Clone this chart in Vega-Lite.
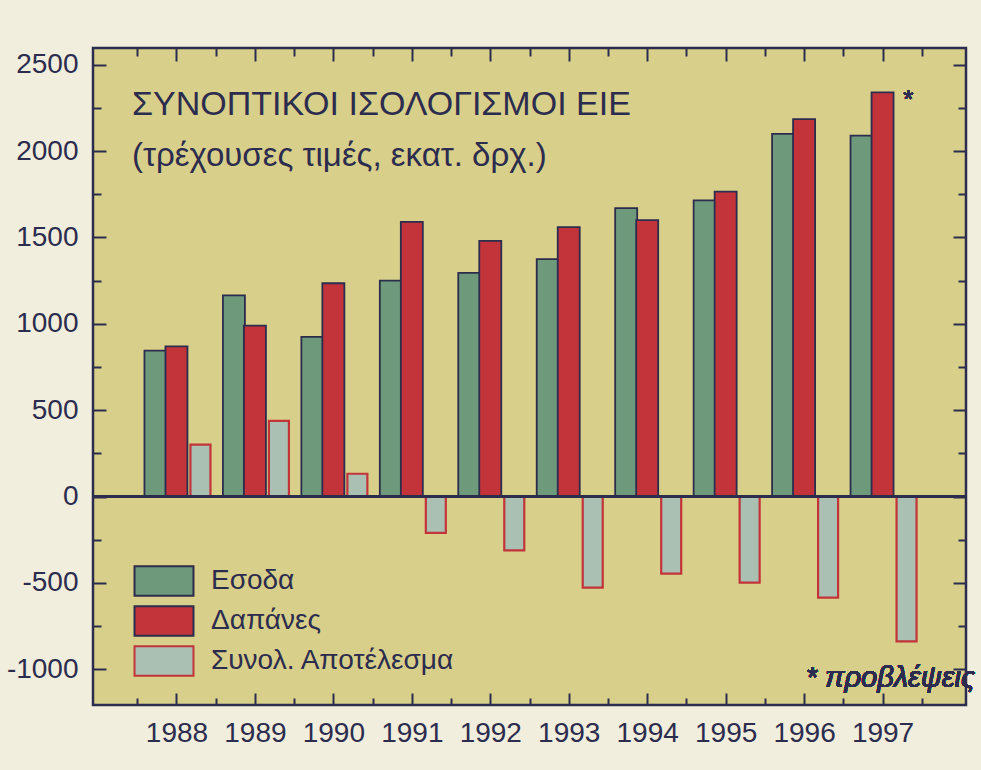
{
  "$schema": "https://vega.github.io/schema/vega-lite/v6.json",
  "width": 873,
  "height": 657,
  "autosize": {"type": "none"},
  "padding": {"left": 93, "top": 48, "right": 15, "bottom": 65},
  "background": "#f1eedd",
  "config": {
    "view": {"fill": "#d8cf8a", "stroke": "#2c2c4e", "strokeWidth": 2.5},
    "font": "Liberation Sans",
    "axis": {"grid": false, "domain": false, "title": null, "labelFont": "Liberation Sans", "labelColor": "#2c2c4e", "labelFontSize": 28, "tickColor": "#2c2c4e", "tickWidth": 2}
  },
  "title": {
    "text": "ΣΥΝΟΠΤΙΚΟΙ ΙΣΟΛΟΓΙΣΜΟΙ ΕΙΕ",
    "subtitle": "(τρέχουσες τιμές, εκατ. δρχ.)",
    "anchor": "start",
    "frame": "group",
    "orient": "top",
    "offset": 0,
    "dx": 39,
    "dy": 126,
    "font": "Liberation Sans",
    "fontSize": 34,
    "fontWeight": "normal",
    "color": "#2c2c4e",
    "subtitleFont": "Liberation Sans",
    "subtitleFontSize": 33,
    "subtitleColor": "#2c2c4e",
    "subtitlePadding": 18
  },
  "data": {
    "values": [
      {"year": 1988, "series": "Εσοδα", "value": 845},
      {"year": 1989, "series": "Εσοδα", "value": 1165},
      {"year": 1990, "series": "Εσοδα", "value": 925},
      {"year": 1991, "series": "Εσοδα", "value": 1250},
      {"year": 1992, "series": "Εσοδα", "value": 1295},
      {"year": 1993, "series": "Εσοδα", "value": 1375},
      {"year": 1994, "series": "Εσοδα", "value": 1670},
      {"year": 1995, "series": "Εσοδα", "value": 1715},
      {"year": 1996, "series": "Εσοδα", "value": 2100},
      {"year": 1997, "series": "Εσοδα", "value": 2090},
      {"year": 1988, "series": "Δαπάνες", "value": 870},
      {"year": 1989, "series": "Δαπάνες", "value": 990},
      {"year": 1990, "series": "Δαπάνες", "value": 1235},
      {"year": 1991, "series": "Δαπάνες", "value": 1590},
      {"year": 1992, "series": "Δαπάνες", "value": 1480},
      {"year": 1993, "series": "Δαπάνες", "value": 1560},
      {"year": 1994, "series": "Δαπάνες", "value": 1600},
      {"year": 1995, "series": "Δαπάνες", "value": 1765},
      {"year": 1996, "series": "Δαπάνες", "value": 2185},
      {"year": 1997, "series": "Δαπάνες", "value": 2340},
      {"year": 1988, "series": "Συνολ. Αποτέλεσμα", "value": 300},
      {"year": 1989, "series": "Συνολ. Αποτέλεσμα", "value": 438},
      {"year": 1990, "series": "Συνολ. Αποτέλεσμα", "value": 132},
      {"year": 1991, "series": "Συνολ. Αποτέλεσμα", "value": -210},
      {"year": 1992, "series": "Συνολ. Αποτέλεσμα", "value": -312},
      {"year": 1993, "series": "Συνολ. Αποτέλεσμα", "value": -527},
      {"year": 1994, "series": "Συνολ. Αποτέλεσμα", "value": -446},
      {"year": 1995, "series": "Συνολ. Αποτέλεσμα", "value": -498},
      {"year": 1996, "series": "Συνολ. Αποτέλεσμα", "value": -585},
      {"year": 1997, "series": "Συνολ. Αποτέλεσμα", "value": -839}
    ]
  },
  "layer": [
    {
      "transform": [{"filter": "datum.series === 'Εσοδα'"}],
      "mark": {"type": "bar", "width": 22, "xOffset": -21, "strokeWidth": 1.8},
      "encoding": {
        "x": {"field": "year", "type": "quantitative", "scale": {"domain": [1987, 1998], "nice": false, "zero": false},
              "axis": {"orient": "bottom", "ticks": false, "values": [1988, 1989, 1990, 1991, 1992, 1993, 1994, 1995, 1996, 1997], "labelExpr": "'' + datum.value", "labelPadding": 14}},
        "y": {"field": "value", "type": "quantitative", "scale": {"domain": [-1207, 2597], "nice": false},
              "axis": {"orient": "left", "ticks": false, "values": [-1000, -500, 0, 500, 1000, 1500, 2000, 2500], "labelExpr": "'' + datum.value", "labelPadding": 15}},
        "color": {"field": "series", "type": "nominal",
                  "scale": {"domain": ["Εσοδα", "Δαπάνες", "Συνολ. Αποτέλεσμα"], "range": ["#6e9a7b", "#c2343a", "#a9c0b3"]},
                  "legend": {"orient": "none", "legendX": 50, "legendY": 512, "padding": 0, "title": null, "symbolType": "M-1.5,-0.75L1.5,-0.75L1.5,0.75L-1.5,0.75Z", "symbolSize": 1545, "symbolStrokeWidth": 2, "labelFontSize": 28, "labelFont": "Liberation Sans", "labelColor": "#2c2c4e", "labelOffset": 26, "labelLimit": 500, "rowPadding": 0}},
        "stroke": {"field": "series", "type": "nominal",
                   "scale": {"domain": ["Εσοδα", "Δαπάνες", "Συνολ. Αποτέλεσμα"], "range": ["#2c2c4e", "#2c2c4e", "#c2343a"]},
                   "legend": {"orient": "none", "legendX": 50, "legendY": 512, "padding": 0, "title": null, "symbolType": "M-1.5,-0.75L1.5,-0.75L1.5,0.75L-1.5,0.75Z", "symbolSize": 1545, "symbolStrokeWidth": 2, "labelFontSize": 28, "labelFont": "Liberation Sans", "labelColor": "#2c2c4e", "labelOffset": 26, "labelLimit": 500, "rowPadding": 0}}
      }
    },
    {
      "transform": [{"filter": "datum.series === 'Δαπάνες'"}],
      "mark": {"type": "bar", "width": 22, "xOffset": 0, "strokeWidth": 1.8},
      "encoding": {
        "x": {"field": "year", "type": "quantitative",
              "axis": {"orient": "bottom", "labels": false, "values": [1987.5, 1988, 1988.5, 1989, 1989.5, 1990, 1990.5, 1991, 1991.5, 1992, 1992.5, 1993, 1993.5, 1994, 1994.5, 1995, 1995.5, 1996, 1996.5, 1997, 1997.5],
                       "tickSize": {"condition": {"test": "datum.value % 1 === 0", "value": -12}, "value": -7}}},
        "y": {"field": "value", "type": "quantitative",
              "axis": {"orient": "left", "labels": false, "values": [-1000, -750, -500, -250, 0, 250, 500, 750, 1000, 1250, 1500, 1750, 2000, 2250, 2500],
                       "tickSize": {"condition": {"test": "datum.value % 500 === 0", "value": -13}, "value": -8}}},
        "color": {"field": "series", "type": "nominal"},
        "stroke": {"field": "series", "type": "nominal"}
      }
    },
    {
      "transform": [{"filter": "datum.series === 'Συνολ. Αποτέλεσμα'"}],
      "mark": {"type": "bar", "width": 20, "xOffset": 24, "strokeWidth": 2.2},
      "encoding": {
        "x": {"field": "year", "type": "quantitative",
              "axis": {"orient": "top", "labels": false, "values": [1987.5, 1988, 1988.5, 1989, 1989.5, 1990, 1990.5, 1991, 1991.5, 1992, 1992.5, 1993, 1993.5, 1994, 1994.5, 1995, 1995.5, 1996, 1996.5, 1997, 1997.5],
                       "tickSize": {"condition": {"test": "datum.value % 1 === 0", "value": -13}, "value": -8}}},
        "y": {"field": "value", "type": "quantitative",
              "axis": {"orient": "right", "labels": false, "values": [-1000, -750, -500, -250, 0, 250, 500, 750, 1000, 1250, 1500, 1750, 2000, 2250, 2500],
                       "tickSize": {"condition": {"test": "datum.value % 500 === 0", "value": -13}, "value": -8}}},
        "color": {"field": "series", "type": "nominal"},
        "stroke": {"field": "series", "type": "nominal"}
      }
    },
    {
      "mark": {"type": "rule", "color": "#2c2c4e", "strokeWidth": 2.5},
      "encoding": {"y": {"datum": 0, "type": "quantitative", "axis": null}}
    },
    {
      "mark": {"type": "text", "text": "*", "fontSize": 26, "font": "Liberation Sans", "fontWeight": "normal", "color": "#2c2c4e", "align": "center", "baseline": "alphabetic"},
      "encoding": {"x": {"datum": 1997.33, "type": "quantitative", "axis": null}, "y": {"datum": 2250, "type": "quantitative", "axis": null}}
    },
    {
      "mark": {"type": "text", "text": "* προβλέψεις", "fontSize": 29, "font": "Liberation Sans", "fontStyle": "italic", "fontWeight": "normal", "color": "#2c2c4e", "align": "left", "baseline": "alphabetic"},
      "encoding": {"x": {"datum": 1996.02, "type": "quantitative", "axis": null}, "y": {"datum": -1101, "type": "quantitative", "axis": null}}
    }
  ],
  "resolve": {"axis": {"x": "independent", "y": "independent"}}
}
